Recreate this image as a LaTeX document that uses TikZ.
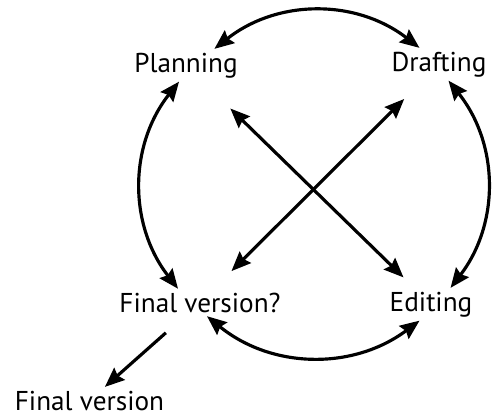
\documentclass[tikz,border=0pt]{standalone}
\usepackage{fontspec}
\setmainfont{PT Sans}
\usetikzlibrary{positioning, arrows.meta}

\begin{document}
\begin{tikzpicture}[
    x=0.02cm, y=-0.02cm,
    stage/.style={inner sep=2pt, anchor=base, font=\fontsize{15.5}{18}\selectfont},
    arr/.style={-{Stealth[length=3.9mm, width=3.2mm, inset=0.5mm]}, line width=1.8pt},
    dbl/.style={{Stealth[length=3.9mm, width=3.2mm, inset=0.5mm]}-{Stealth[length=3.9mm, width=3.2mm, inset=0.5mm]}, line width=1.8pt}
]
    \useasboundingbox (0,0) rectangle (492,416);

    \node[stage] (plan) at (186,72) {Planning};
    \node[stage] (draft) at (439,71) {Drafting};
    \node[stage] (edit) at (431,311) {Editing};
    \node[stage] (fin) at (200,312) {Final version?};
    \node[stage] (final) at (89.5,410) {Final version};

    % cycle round the circle
    \draw[dbl] (plan.30) to[bend left=38] (draft.140);
    \draw[dbl] (draft.-60) to[bend left=38] (edit.40);
    \draw[dbl] (edit.235) to[bend left=38] (fin.-63);
    \draw[dbl] (fin.148) to[bend left=38] (plan.-113);

    % cross links
    \draw[dbl, shorten <=0.77cm, shorten >=0.3cm] (plan) -- (edit);
    \draw[dbl, shorten <=0.52cm, shorten >=0.5cm] (draft) -- (fin);

    \draw[arr, shorten <=0.5cm] (fin) -- (final);

\end{tikzpicture}
\end{document}
